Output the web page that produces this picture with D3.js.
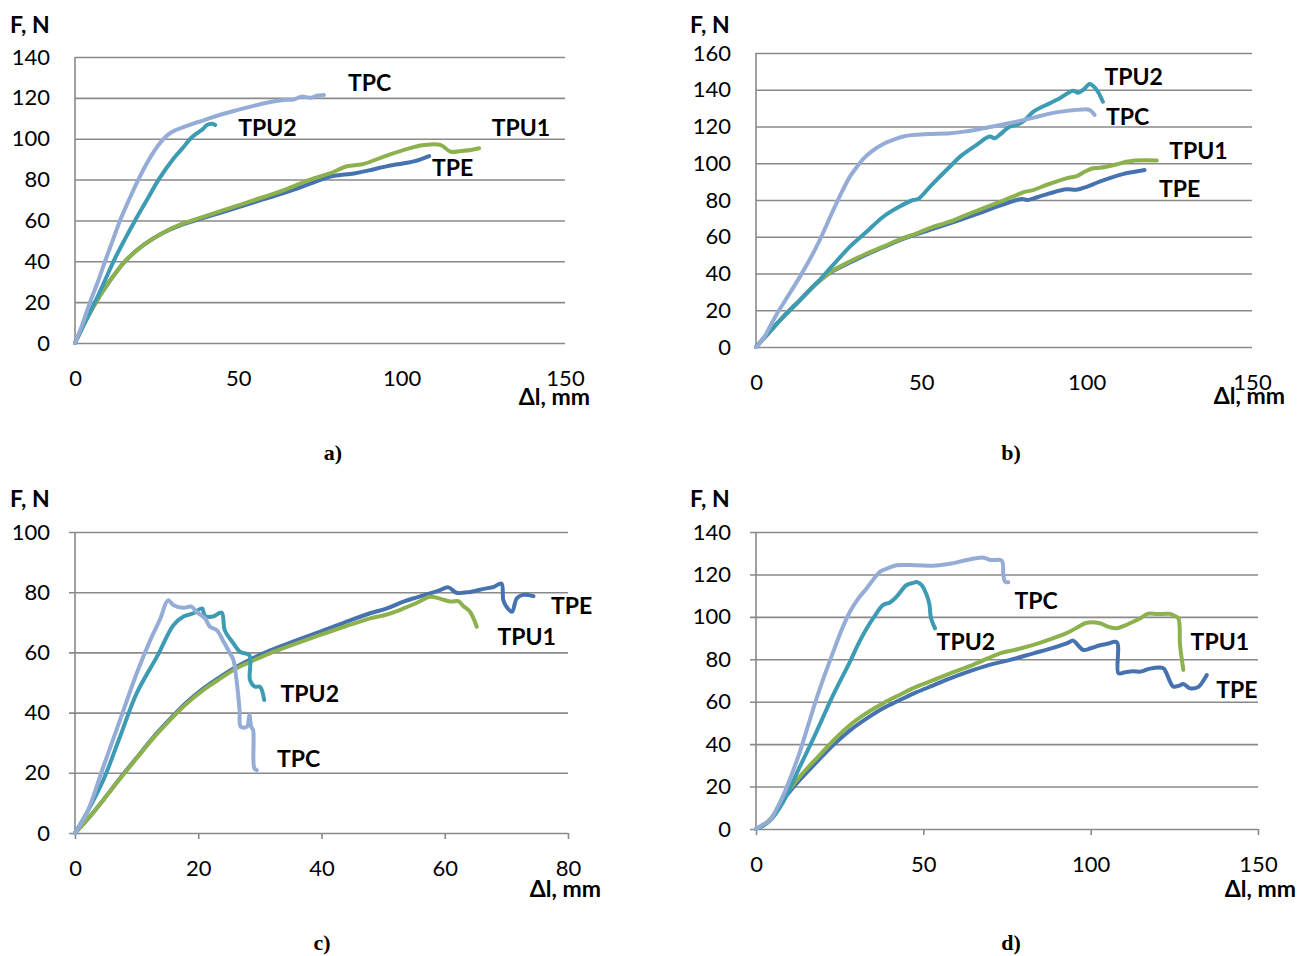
<!DOCTYPE html>
<html>
<head>
<meta charset="utf-8">
<script src="https://cdn.jsdelivr.net/npm/d3@7"></script>
<style>
  body { margin: 0; background: #fff; }
  svg { display: block; }
  .tick text { font-family: Lato, "Open Sans", sans-serif; font-size: 22px; fill: #000; }
  .lbl { font-family: Lato, "Open Sans", sans-serif; font-size: 23px; font-weight: 700; fill: #000; }
  .cap { font-family: "Liberation Serif", "DejaVu Serif", serif; font-size: 22px; font-weight: 700; fill: #000; }
</style>
</head>
<body>
<div id="chart"></div>
<script>
/* ===== Data: force F (N) vs elongation Δl (mm) ===== */

const seriesNames = ['TPE', 'TPU1', 'TPU2', 'TPC'];

// a)
const aTPC = [[0,0],[2,8],[4.6,20],[7,30],[9.2,40],[11.5,50],[13.8,60],[16.5,70],[19.4,80],[22,88],[24.5,94.5],[26.5,98.8],[28.5,102],[30.5,104],[33,105.6],[36,107.3],[39.4,109],[44,111.5],[49.6,114],[55,116.2],[59.8,118],[64,119],[67,119.2],[69,120.5],[70,120.6],[72,120],[74,121],[76.2,121.4]];
const aTPU2 = [[0,0],[3,10],[6.1,20],[9,30],[11.8,40],[15,50],[18.4,60],[22,70],[25.6,80],[30,90],[33,95.5],[35.3,100],[37.3,102.6],[39,104.5],[40.4,106.7],[42,107.3],[42.9,106.7]];
const aTPE = [[0,0],[3,10],[6.3,20],[10.5,30],[15.3,40],[21,48],[27,54],[32,57.5],[37.8,60.5],[45,64],[55,69],[65,74],[72,78],[78.2,81.5],[85.4,83],[90,84.5],[95.6,86.6],[100.7,88],[104,89],[108.4,91.5]];
const aTPU1 = [[0,0],[3,10],[6.5,20],[10.5,30],[15.3,40],[21,48],[27,54],[32,57.8],[37.8,61],[45,64.8],[55,70],[65,75.5],[72,80],[78,83],[83.3,86.5],[88,87.5],[95,91.5],[100.7,94.5],[104,96],[106.8,96.9],[112,96.9],[115,93.6],[118,94],[121.2,94.5],[123.7,95.3]];

// b)
const bTPC = [[0,0],[2,4],[4.2,11],[6,17],[8.3,23.8],[13.3,38.3],[18.3,54.6],[23.4,74.6],[26,84.5],[28.4,92.7],[30.5,98],[32.5,102.5],[35,106.5],[38.5,110.5],[41.5,112.7],[44,114.3],[47,115.3],[52,115.9],[58.6,116.3],[63,117.2],[68.7,119],[73,120.5],[78.8,122.6],[84,124.8],[88.8,127],[94,128.5],[98.9,129.3],[100.9,129],[102.4,126.3]];
const bTPU2 = [[0,0],[4,8],[8.3,16.5],[13,25],[18.3,34.7],[23,44],[28.4,54.6],[33,62],[38.5,70.9],[43,76],[47.5,80],[49,80.5],[53,88],[58.6,98.1],[62,104],[66.7,110],[70.7,114.5],[72.2,113.6],[74,116],[76.7,119.9],[79,121],[81,123],[83.8,128],[88.8,132.6],[92,135.5],[95.9,139.5],[97.4,138.4],[99,140],[100.9,143.1],[102,142],[103.4,138.9],[104.9,133.5]];
const bTPE = [[0,0],[4,8],[8.3,16.5],[13,25],[18.3,34.5],[23,41],[28.4,46],[33,50],[38.5,54.3],[43,57.8],[48.6,61.4],[53,64],[58.6,67.3],[63.5,70.3],[68.7,73.6],[73.5,76.8],[78.8,80],[80.5,80.6],[82,80],[85,81.5],[88.8,83.6],[93.9,85.8],[96.9,85.6],[100,87.2],[103.9,90],[110.9,94.1],[114,95.2],[117.5,96.3]];
const bTPU1 = [[0,0],[4,8],[8.3,16.5],[13,25],[18.3,34.5],[23,41.3],[28.4,46.5],[33,50.5],[38.5,54.6],[43,58.2],[48.6,61.9],[53,65],[58.6,68.2],[63.5,71.8],[68.7,75.5],[73.5,78.8],[78.8,82.7],[81,84.3],[83.8,85.4],[88,88.3],[93.9,91.8],[97,93],[99.5,95.5],[101.9,97.3],[104,97.5],[108.9,99.3],[112,100.8],[114,101.4],[118,101.6],[121.2,101.5]];

// c)
const cTPC = [[0,0],[1.9,6.5],[4.6,22],[7.3,37.5],[10,53],[12.2,64],[13.8,71],[15.1,77.3],[16,75.7],[17.6,74.8],[18.9,75.2],[19.7,73.5],[21.1,71.3],[21.9,68.5],[23,67.4],[24.1,63.6],[25.2,59.5],[25.7,57.5],[26.2,51],[26.7,41],[26.9,35.3],[27.9,35.3],[28.3,39.2],[28.6,35.3],[28.9,34.2],[29.1,21.5],[29.5,20.9]];
const cTPU2 = [[0,0],[2,7],[4.6,17.6],[7.3,32],[10,46.4],[13.3,58.6],[16,69.1],[17.6,71.9],[19.2,73],[20.6,74.6],[21.1,72.1],[22.4,71.9],[23.8,73.2],[24.3,67.4],[25.7,63],[26.8,60.2],[28.3,59],[28.4,50.8],[29.2,48.6],[30,48.6],[30.7,44.2]];
const cTPE = [[0,0],[2,4.5],[4.6,11],[7.3,18.2],[10,25],[12.7,31.8],[15.4,37.8],[18,43.2],[20.8,48],[23.5,51.8],[26.2,55.2],[29,58.2],[31.6,60.6],[35.7,63.8],[39.8,66.9],[43.8,70],[47.9,73],[50.6,74.6],[53.3,76.9],[55.5,78.3],[57.6,79.6],[59,80.5],[60.6,81.6],[61.9,79.8],[64.1,80.1],[66.3,81.1],[68,81.8],[69.2,82.9],[69.5,77.4],[70,75.2],[70.9,73.5],[71.7,78],[72.7,79.1],[74.4,78.7]];
const cTPU1 = [[0,0],[2,4.5],[4.6,11],[7.3,18],[10,24.8],[12.7,31.5],[15.4,37.5],[18,42.8],[20.8,47.5],[23.5,51.2],[26.2,54.7],[29,57.4],[31.6,59.7],[35.7,62.8],[39.8,65.8],[43.8,68.6],[47.9,71.3],[50.6,72.6],[53.3,74.6],[55.5,76.5],[57.6,78.5],[59.3,77.8],[60.9,76.9],[62.2,77],[63,75.4],[64.1,73.5],[65.2,68.5]];

// d)
const dTPC = [[0,0],[2,2],[4.2,4.2],[6,9],[8.2,16],[10.5,25],[13.1,36.4],[15.5,48.5],[18.1,61.6],[20.5,72.5],[23.1,83.6],[25.5,93.5],[28.1,102.5],[30.5,108.5],[33.1,113.5],[35,117.5],[37.1,121.3],[39.5,123],[42,124.3],[48,124.3],[53,124.1],[58,125],[63,126.8],[68,127.9],[70,126.8],[73.4,126.5],[73.9,119.8],[74.4,116.6],[75.4,116.3]];
const dTPU2 = [[0,0],[2,1.5],[4.2,4],[6,7.5],[8.2,12.9],[13,29],[18.1,45.9],[23,63],[28.1,78.9],[30.5,87],[33.1,94.6],[35.5,100.5],[38,105.6],[40,106.8],[42,109.5],[45,115],[47,116],[48,116.4],[49.5,115],[51,110.3],[51.8,106],[52.3,99.3],[53.5,94.6]];
const dTPE = [[0,0],[2,1.5],[4.2,4.2],[6,8],[8.2,13.8],[13,23],[18.1,31.5],[23,39.5],[28.1,46.5],[33,52],[38,56.9],[43,60.8],[48,64.5],[53,67.7],[58,71],[65,75],[70,77.5],[75.9,79.7],[82.9,82.8],[88,85],[92.8,87.5],[94.8,88.8],[96,87],[97.8,84.4],[100,85.2],[102.8,86.6],[105,87.3],[107.8,88],[108.3,73.4],[110,73.8],[112.7,74.4],[115,74.2],[117.7,75.6],[121.7,75.8],[122.5,74],[123.7,69.5],[124.7,67.1],[126.5,67.6],[127.7,68.4],[129.7,66.3],[132.2,67],[133.5,69.5],[134.7,72.6]];
const dTPU1 = [[0,0],[2,1.5],[4.2,4.5],[6,8.5],[8.2,14.5],[13,24.5],[18.1,33.3],[23,41.5],[28.1,49],[33,54.6],[38,59.3],[43,63.3],[48,67.1],[53,70.2],[58,73.4],[65,77.5],[72.9,82.8],[77,84.3],[82.9,86.8],[88,89.5],[92.8,92.3],[96,95],[98.8,97.2],[102.8,97],[105,95.5],[107.8,94.6],[110,95.8],[112.7,97.7],[115,99.5],[117.2,101.5],[120,101.3],[123.7,101.4],[125,100.5],[126.2,99.3],[126.7,86.8],[127.7,75]];

// axis ranges and label anchors (data units)
const xMaxes = [150, 150, 80, 150];
const xSteps = [50, 50, 20, 50];
const yMaxes = [140, 160, 100, 140];
const captions = ['a)', 'b)', 'c)', 'd)'];
const seriesLabels = [
  { TPC: [90.2, 127.3], TPU2: [58.9, 105.2], TPU1: [136.5, 105.2], TPE: [115.6, 85.7] },
  { TPU2: [114.2, 146.9], TPC: [112.4, 125.2], TPU1: [133.8, 106.7], TPE: [128.1, 86] },
  { TPE: [80.6, 75.4], TPU1: [73.3, 65.1], TPU2: [38.1, 46.2], TPC: [36.3, 24.6] },
  { TPC: [83.7, 107.5], TPU2: [62.7, 88.2], TPU1: [138.6, 88.2], TPE: [143.7, 65.5] }
];
const panelData = [
  { TPE: aTPE, TPU1: aTPU1, TPU2: aTPU2, TPC: aTPC },
  { TPE: bTPE, TPU1: bTPU1, TPU2: bTPU2, TPC: bTPC },
  { TPE: cTPE, TPU1: cTPU1, TPU2: cTPU2, TPC: cTPC },
  { TPE: dTPE, TPU1: dTPU1, TPU2: dTPU2, TPC: dTPC }
];

/* ===== Layout (pixels) ===== */
const layout = [
  { left: 75,  right: 565,  top: 57,  bottom: 343, ticks: false, fn: [10, 25],  dl: [590, 397],  cap: [333, 452] },
  { left: 756, right: 1252, top: 53,  bottom: 347, ticks: false, fn: [690, 25], dl: [1285, 396], cap: [1011, 452] },
  { left: 75,  right: 568,  top: 532, bottom: 833, ticks: true,  fn: [10, 499], dl: [601, 889],  cap: [322, 942] },
  { left: 756, right: 1258, top: 532, bottom: 829, ticks: true,  fn: [690, 499], dl: [1296, 889], cap: [1011, 942] }
];

const colors = { TPC: '#95acd6', TPU2: '#3d9bb3', TPE: '#4672b0', TPU1: '#8db14c' };
const GRID = '#8a8a8a';

const svg = d3.select('#chart').append('svg')
  .attr('width', 1300).attr('height', 956)
  .style('background', '#fff');

function drawPanel(i) {
  const p = layout[i];
  const x = d3.scaleLinear().domain([0, xMaxes[i]]).range([p.left, p.right]);
  const y = d3.scaleLinear().domain([0, yMaxes[i]]).range([p.bottom, p.top]);
  const g = svg.append('g');
  const yTicks = d3.range(0, yMaxes[i] + 1, 20);
  const xTicks = d3.range(0, xMaxes[i] + 1, xSteps[i]);

  // Horizontal grid lines
  const grid = g.append('g')
    .attr('transform', `translate(${p.left},0)`)
    .call(d3.axisLeft(y).tickValues(yTicks).tickSize(-(p.right - p.left)).tickFormat(''));
  grid.select('.domain').remove();
  grid.selectAll('line')
    .attr('stroke', GRID).attr('stroke-width', 1.6)
    .attr('x1', p.ticks ? -6 : 0);

  // Y labels
  const yAx = g.append('g')
    .attr('transform', `translate(${p.left},0)`)
    .call(d3.axisLeft(y).tickValues(yTicks).tickSize(0).tickPadding(25));
  yAx.select('.domain').remove();

  // Vertical axis line
  g.append('line')
    .attr('x1', p.left).attr('x2', p.left)
    .attr('y1', p.top).attr('y2', p.bottom)
    .attr('stroke', GRID).attr('stroke-width', 1.6);

  // X axis
  const xAx = g.append('g')
    .attr('transform', `translate(0,${p.bottom})`)
    .call(d3.axisBottom(x).tickValues(xTicks).tickSize(p.ticks ? 6 : 0));
  xAx.select('.domain').remove();
  xAx.selectAll('line').attr('stroke', GRID).attr('stroke-width', 1.6);
  xAx.selectAll('text').attr('y', 35).attr('dy', '0.35em');

  // Curves
  const line = d3.line()
    .x(d => x(d[0])).y(d => y(d[1]))
    .curve(d3.curveCatmullRom.alpha(0.5));
  seriesNames.forEach(name => {
    g.append('path')
      .datum(panelData[i][name])
      .attr('d', line)
      .attr('fill', 'none')
      .attr('stroke', colors[name])
      .attr('stroke-width', 4)
      .attr('stroke-linejoin', 'round')
      .attr('stroke-linecap', 'round');
  });

  // Curve labels
  Object.entries(seriesLabels[i]).forEach(([name, pos]) => {
    g.append('text').attr('class', 'lbl')
      .attr('x', x(pos[0])).attr('y', y(pos[1]))
      .attr('text-anchor', 'middle').attr('dy', '0.35em')
      .text(name);
  });

  // Axis titles and caption
  g.append('text').attr('class', 'lbl')
    .attr('x', p.fn[0]).attr('y', p.fn[1]).attr('dy', '0.35em')
    .text('F, N');
  g.append('text').attr('class', 'lbl')
    .attr('x', p.dl[0]).attr('y', p.dl[1]).attr('dy', '0.35em')
    .attr('text-anchor', 'end')
    .text('Δl, mm');
  g.append('text').attr('class', 'cap')
    .attr('x', p.cap[0]).attr('y', p.cap[1]).attr('dy', '0.35em')
    .attr('text-anchor', 'middle')
    .text(captions[i]);
}

d3.range(4).forEach(drawPanel);
</script>
</body>
</html>
